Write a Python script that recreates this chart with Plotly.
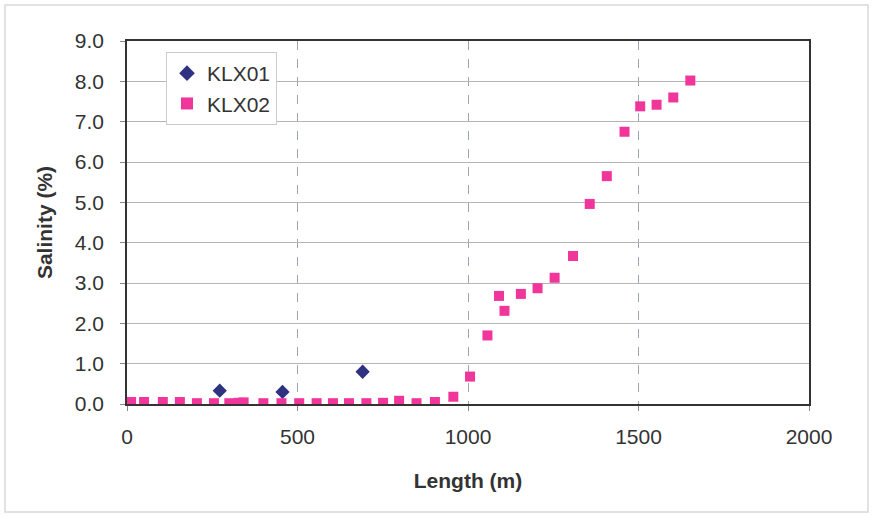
import plotly.graph_objects as go

klx01_x = [272, 456, 691]
klx01_y = [0.33, 0.30, 0.80]

klx02_x = [12, 50, 105, 155, 205, 255, 300, 328, 342, 400, 453, 505, 556, 604, 651, 702,
           751, 798, 849, 903, 957, 1006, 1057, 1091, 1107, 1155, 1204, 1254, 1308, 1357,
           1407, 1459, 1505, 1553, 1602, 1652]
klx02_y = [0.05, 0.05, 0.05, 0.05, 0.02, 0.02, 0.02, 0.03, 0.04, 0.02, 0.02, 0.02, 0.02,
           0.02, 0.02, 0.02, 0.03, 0.08, 0.02, 0.05, 0.18, 0.68, 1.70, 2.68, 2.31, 2.73,
           2.87, 3.13, 3.67, 4.96, 5.65, 6.75, 7.38, 7.42, 7.60, 8.02]

y_ticks = [0, 1, 2, 3, 4, 5, 6, 7, 8, 9]
y_tick_text = ["0.0", "1.0", "2.0", "3.0", "4.0", "5.0", "6.0", "7.0", "8.0", "9.0"]
x_ticks = [0, 500, 1000, 1500, 2000]

fig = go.Figure()
fig.add_trace(go.Scatter(x=klx01_x, y=klx01_y, mode="markers", name="KLX01",
                         marker=dict(symbol="diamond", size=11, color="#2e3280")))
fig.add_trace(go.Scatter(x=klx02_x, y=klx02_y, mode="markers", name="KLX02",
                         marker=dict(symbol="square", size=10, color="#f0359b")))

L, R, T, B = 127, 65, 41, 113
W, H = 874, 517
pw, ph = W - L - R, H - T - B

def px(x):
    return (x - L) / pw

def py(y):
    return (H - B - y) / ph

fig.update_layout(
    width=W, height=H,
    margin=dict(l=L, r=R, t=T, b=B),
    paper_bgcolor="white", plot_bgcolor="white",
    font=dict(family="Arial, Liberation Sans, sans-serif", size=21, color="#333333"),
    showlegend=True,
    legend=dict(x=px(166), y=py(52), xanchor="left", yanchor="top",
                bgcolor="white", bordercolor="#cccccc", borderwidth=1,
                font=dict(size=21, color="#333333"), itemsizing="constant",
                itemwidth=30),
    xaxis=dict(range=[0, 2000], tickvals=x_ticks, showgrid=True, gridcolor="#9aa6b8",
               griddash="dash", gridwidth=1, showline=True, linecolor="#333333",
               linewidth=1.5, mirror=True, ticks="outside", ticklen=5, tickcolor="#888888",
               ticklabelstandoff=8, zeroline=False,
               title=dict(text="<b>Length (m)</b>", font=dict(size=21, color="#333333"),
                          standoff=26)),
    yaxis=dict(range=[0, 9], tickvals=y_ticks, ticktext=y_tick_text, showgrid=True,
               gridcolor="#b5b5b5", gridwidth=1, showline=True, linecolor="#333333",
               linewidth=1.5, mirror=True, ticks="outside", ticklen=5, tickcolor="#888888",
               ticklabelstandoff=12, zeroline=False,
               title=dict(text="<b>Salinity (%)</b>", font=dict(size=21, color="#333333"),
                          standoff=16)),
    shapes=[dict(type="rect", xref="paper", yref="paper",
                 x0=px(5), x1=px(868), y0=py(512), y1=py(5),
                 line=dict(color="#d9d9d9", width=1.5), fillcolor="rgba(0,0,0,0)", layer="below")],
)

fig.write_html("out.html")
